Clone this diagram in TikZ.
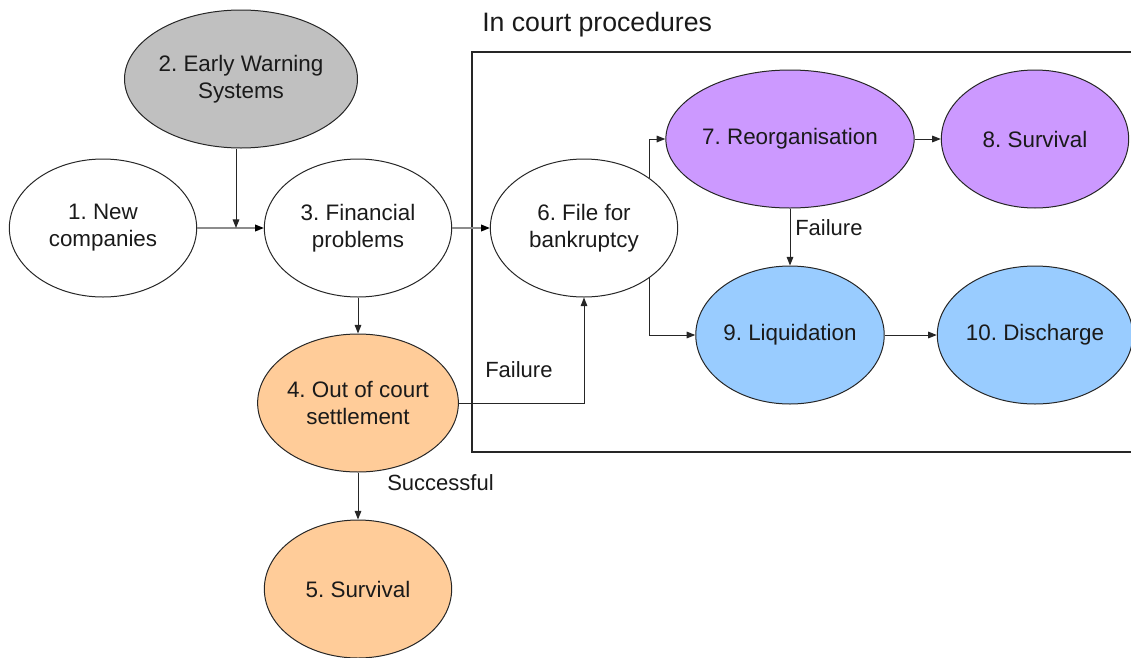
\documentclass[tikz,border=0pt]{standalone}
\usepackage{fontspec}
\setmainfont{Liberation Sans}
\usetikzlibrary{arrows.meta,shapes.geometric,calc}
\frenchspacing
\definecolor{txt}{HTML}{1A1A1A}
\definecolor{ewsgray}{HTML}{C0C0C0}
\definecolor{orangefill}{HTML}{FFCC99}
\definecolor{purplefill}{HTML}{CC99FF}
\definecolor{bluefill}{HTML}{99CCFF}
\definecolor{lightline}{HTML}{8C8C8C}
\tikzset{
  stage/.style={ellipse, draw=black!85, line width=0.75pt, minimum width=140.5pt, minimum height=103.5pt,
    inner sep=0pt, align=center, text=txt, font=\fontsize{16.8}{20.25}\selectfont},
  conn/.style={line width=0.75pt, draw=black!85, -{Triangle[length=6.5pt,width=5pt]}},
  gconn/.style={line width=0.9pt, draw=lightline, -{Triangle[length=6.5pt,width=5pt,color=black]}},
  lbl/.style={text=txt, font=\fontsize{16.5}{20}\selectfont, inner sep=0pt, anchor=west},
}
\begin{document}
\begin{tikzpicture}[x=0.75pt,y=-0.75pt]
\useasboundingbox (0,0) rectangle (1131,657);
% in-court frame (open on the right)
\draw[line width=0.9pt, black!85] (1135,52) -- (472,52) -- (472,452) -- (1135,452);
\node[text=txt, font=\fontsize{20}{24}\selectfont, inner sep=0pt, anchor=west] (title) at (482,25) {In court procedures};

\node[stage] (n1) at (103,228) {1. New\\companies};
\node[stage, fill=ewsgray] (n2) at (241,79) {2. Early Warning\\Systems};
\node[stage] (n3) at (358,228) {3. Financial\\problems};
\node[stage, fill=orangefill] (n4) at (358,403) {4. Out of court\\settlement};
\node[stage, fill=orangefill] (n5) at (358,589) {5. Survival};
\node[stage] (n6) at (584,228) {6. File for\\bankruptcy};
\node[stage, fill=purplefill] (n7) at (790,139) {7. Reorganisation};
\node[stage, fill=purplefill] (n8) at (1035,139) {8. Survival};
\node[stage, fill=bluefill] (n9) at (790,335) {9. Liquidation};
\node[stage, fill=bluefill] (n10) at (1035,335) {10. Discharge};

\coordinate (j) at (236,228);
\draw[gconn] (n1.east) -- (n3.west);
\draw[conn] (n2.south -| j) -- (j);
\draw[gconn] (n3.east) -- (n6.west);
\draw[conn] (n3.south) -- (n4.north);
\draw[conn] (n4.south) -- (n5.north);
\draw[conn] (n4.east) -| (n6.south);
\draw[conn] (n6.37) |- (n7.west);
\draw[conn] (n6.-37) |- (n9.west);
\draw[conn] (n7.east) -- (n8.west);
\draw[conn] (n7.south) -- (n9.north);
\draw[conn] (n9.east) -- (n10.west);

\node[lbl] (f1) at (795,228) {Failure};
\node[lbl] (f2) at (485,370) {Failure};
\node[lbl] (s1) at (387,483) {Successful};
\end{tikzpicture}
\end{document}
